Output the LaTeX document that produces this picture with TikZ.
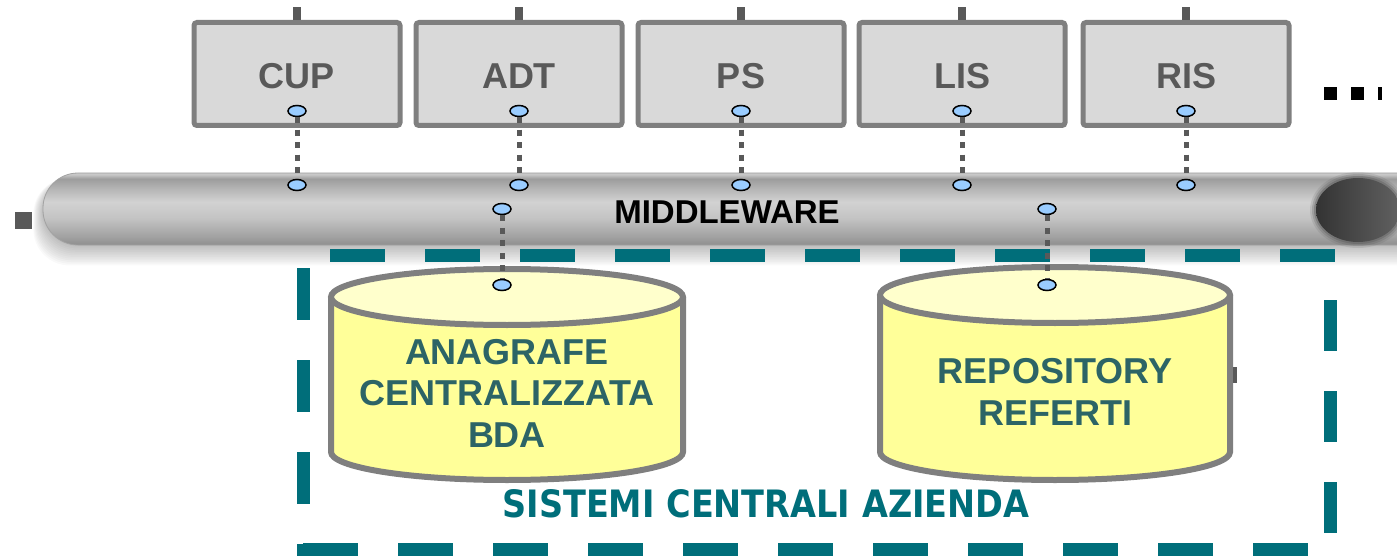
\documentclass[tikz,border=0pt]{standalone}
\usepackage{graphicx}
\usepackage{fontspec}
\setmainfont{Liberation Sans}
\newfontfamily\condfont{DejaVu Sans}
\usetikzlibrary{shapes.geometric}

\definecolor{boxfill}{HTML}{D9D9D9}
\definecolor{boxline}{HTML}{7F7F7F}
\definecolor{darkgray}{HTML}{595959}
\definecolor{portblue}{HTML}{99CCFF}
\definecolor{frameteal}{HTML}{006E7A}
\definecolor{drumtext}{HTML}{2C6466}
\definecolor{drumfill}{HTML}{FFFF99}
\definecolor{drumtop}{HTML}{FFFFCC}
\definecolor{pipeA}{HTML}{8E8E8E}
\definecolor{pipeB}{HTML}{A2A2A2}
\definecolor{pipeC}{HTML}{C4C4C4}
\definecolor{pipeD}{HTML}{D2D2D2}
\definecolor{pipeE}{HTML}{B2B2B2}
\definecolor{pipeF}{HTML}{9C9C9C}
\definecolor{pipeG}{HTML}{C8C8C8}

% tube body: dark rims, light middle band (colours listed bottom to top)
\pgfdeclareverticalshading{tube}{100bp}{%
  color(0bp)=(pipeA); color(25bp)=(pipeA); color(31bp)=(pipeB);
  color(44bp)=(pipeC); color(55bp)=(pipeD); color(65bp)=(pipeE);
  color(71bp)=(pipeF); color(74bp)=(pipeG); color(75bp)=(pipeG);
  color(100bp)=(pipeG)}

\tikzset{
  sysbox/.style={draw=boxline, line width=5pt, fill=boxfill, rounded corners=3pt,
    minimum width=206pt, minimum height=103pt, inner sep=0pt},
  boxlabel/.style={text=darkgray, font=\bfseries\fontsize{36pt}{40pt}\selectfont},
  port/.style={ellipse, draw=black, line width=1.5pt, fill=portblue,
    minimum width=18pt, minimum height=11pt, inner sep=0pt},
  wire/.style={draw=darkgray, line width=5pt, dash pattern=on 6pt off 6.5pt},
  stub/.style={draw=darkgray, line width=8pt},
  drumline/.style={draw=boxline, line width=6pt},
  drumlabel/.style={text=drumtext, align=center,
    font=\bfseries\fontsize{36pt}{41.5pt}\selectfont},
  frame/.style={draw=frameteal, line width=13pt},
}

\begin{document}
\begin{tikzpicture}[x=1pt, y=-1pt]
\useasboundingbox (0,0) rectangle (1397,556);
\clip (0,0) rectangle (1397,556);

% soft shadow under the bus
\foreach \i in {1,...,12}{
  \fill[black, opacity=0.022, rounded corners=36pt]
    ({43-0.8*\i},{178}) rectangle (1460,{245+1.7*\i});
}
% bus tube
\shade[shading=tube, rounded corners=35pt] (43,173) rectangle (1460,245);
\draw[pipeB, line width=0.8pt, rounded corners=35pt] (1460,173) -- (43,173) -- (43,245) -- (1460,245);
% open end of the tube, with a soft rim
\foreach \r/\o in {48/0.15, 46/0.25, 44/0.4}{
  \fill[darkgray, opacity=\o] (1358,210) ellipse [x radius=\r pt, y radius={\r pt-10pt}];
}
\shade[left color=black!80, right color=black!62] (1358,210) ellipse [x radius=42pt, y radius=32pt];

% dashed frame of the central systems
\draw[frame, dash pattern=on 55pt off 40pt] (330,255) -- (1337,255);
\draw[frame, dash pattern=on 55pt off 40pt] (303,549.5) -- (1337,549.5);
\draw[frame, dash pattern=on 52pt off 40pt] (303.5,268) -- (303.5,560);
\draw[frame, dash pattern=on 51pt off 40pt] (1330,300) -- (1330,560);

% database drums
\fill[drumfill] (331,297) -- (331,452) arc[start angle=180, end angle=360, x radius=176pt, y radius=28pt] -- (683,297) -- cycle;
\draw[drumline] (331,297) -- (331,452) arc[start angle=180, end angle=360, x radius=176pt, y radius=28pt] -- (683,297);
\filldraw[drumline, fill=drumtop] (507,297) ellipse [x radius=176pt, y radius=28pt];

\fill[drumfill] (880,295) -- (880,452) arc[start angle=180, end angle=360, x radius=175pt, y radius=28pt] -- (1230,295) -- cycle;
\draw[drumline] (880,295) -- (880,452) arc[start angle=180, end angle=360, x radius=175pt, y radius=28pt] -- (1230,295);
\filldraw[drumline, fill=drumtop] (1055,295) ellipse [x radius=175pt, y radius=28pt];

\node[drumlabel] (bda) at (507,393) {ANAGRAFE\\CENTRALIZZATA\\BDA};
\node[drumlabel] (ref) at (1055,392) {REPOSITORY\\REFERTI};

% application boxes and their labels
\node[sysbox] (cup) at (297,74) {};
\node[sysbox] (adt) at (519,74) {};
\node[sysbox] (ps)  at (741,74) {};
\node[sysbox] (lis) at (962,74) {};
\node[sysbox] (ris) at (1186,74) {};
\node[boxlabel] (cupL) at (297,76) {CUP};
\node[boxlabel] (adtL) at (519,76) {ADT};
\node[boxlabel] (psL)  at (741,76) {PS};
\node[boxlabel] (lisL) at (962,76) {LIS};
\node[boxlabel] (risL) at (1186,76) {RIS};
\foreach \b in {cup,adt,ps,lis,ris}{
  \draw[stub] (\b.north) -- ++(0,-13);
}

% bus label
\node[font=\bfseries\fontsize{33pt}{36pt}\selectfont] (mw) at (727,212) {MIDDLEWARE};

% ports
\node[port] (cupT) at (297,111) {};
\node[port] (adtT) at (519,111) {};
\node[port] (psT)  at (741,111) {};
\node[port] (lisT) at (962,111) {};
\node[port] (risT) at (1186,111) {};
\node[port] (cupB) at (297,185) {};
\node[port] (adtB) at (519,185) {};
\node[port] (psB)  at (741,185) {};
\node[port] (lisB) at (962,185) {};
\node[port] (risB) at (1186,185) {};
\node[port] (bdaB) at (502,209) {};
\node[port] (bdaT) at (502,285) {};
\node[port] (refB) at (1047,209) {};
\node[port] (refT) at (1047,285) {};

% dotted links to the bus
\foreach \p in {cup,adt,ps,lis,ris}{
  \draw[wire] (\p T) -- (\p B);
}
\draw[wire] (bdaB) -- (bdaT);
\draw[wire] (refB) -- (refT);

% frame label
\node[text=frameteal, inner sep=0pt] (sca) at (766,504)
  {\resizebox{527pt}{28pt}{\condfont\bfseries SISTEMI CENTRALI AZIENDA}};

% small edge marks
\fill[darkgray] (15,212) rectangle (32,229);
\fill[darkgray] (1233,367) rectangle (1237,383);
\draw[black, line width=13pt, dash pattern=on 13pt off 14pt] (1324,93.5) -- (1382,93.5);
\end{tikzpicture}
\end{document}
